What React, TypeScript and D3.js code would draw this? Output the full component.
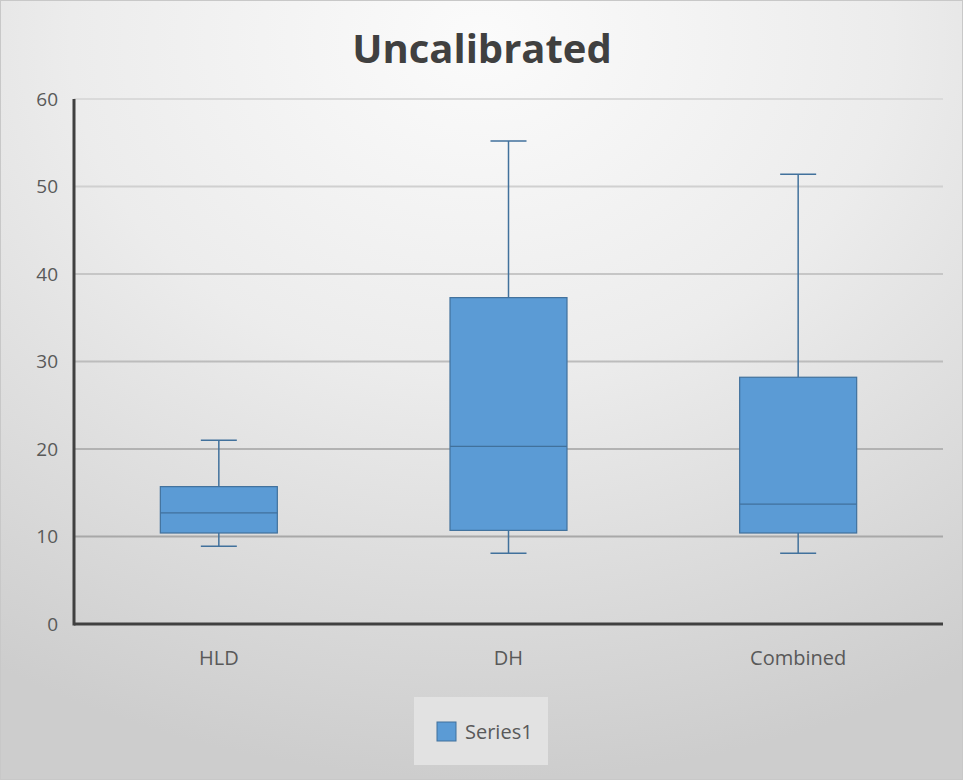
import React from "react";
import * as d3 from "d3";

const categories = ["HLD", "DH", "Combined"];
const mins = [8.9, 8.1, 8.1];
const q1s = [10.4, 10.7, 10.4];
const medians = [12.7, 20.3, 13.7];
const q3s = [15.7, 37.3, 28.2];
const maxs = [21.0, 55.2, 51.4];
const yTicks = [0, 10, 20, 30, 40, 50, 60];
const title = "Uncalibrated";
const seriesName = "Series1";

const W = 963;
const H = 780;
const left = 74;
const right = 943;
const top = 99;
const bottom = 624;

export default function App() {
  const x = d3.scaleBand<string>().domain(categories).range([left, right]).paddingInner(0).paddingOuter(0);
  const y = d3.scaleLinear().domain([0, 60]).range([bottom, top]);
  const boxW = 117;
  const capW = 36;
  const gridColor = d3.interpolateRgb("#9e9e9e", "#dadada");
  const font = "'Open Sans', Lato, sans-serif";
  const fill = "#5B9BD5";
  const stroke = "#41719C";

  return (
    <svg width={W} height={H} style={{ position: "absolute", left: 0, top: 0 }} fontFamily={font}>
      <defs>
        <radialGradient id="bg" cx="0.5" cy="0.05" r="0.95" gradientUnits="objectBoundingBox">
          <stop offset="0" stopColor="#fbfbfb" />
          <stop offset="0.45" stopColor="#ececec" />
          <stop offset="1" stopColor="#cdcdcd" />
        </radialGradient>
      </defs>
      <rect x={0.5} y={0.5} width={W - 1} height={H - 1} fill="url(#bg)" stroke="#c8c8c8" strokeWidth={1} />
      <text x={482} y={63} textAnchor="middle" fontSize={40} fontWeight="bold" fill="#404040">
        {title}
      </text>
      {yTicks.map((t) => (
        <g key={t}>
          {t > 0 && (
            <line x1={left} x2={right} y1={y(t)} y2={y(t)} stroke={gridColor(t / 60)} strokeWidth={2} />
          )}
          <text x={58} y={y(t)} dy="0.36em" textAnchor="end" fontSize={19} fill="#595959">
            {t}
          </text>
        </g>
      ))}
      {categories.map((c, i) => {
        const cx = (x(c) as number) + x.bandwidth() / 2;
        return (
          <g key={c}>
            <line x1={cx} x2={cx} y1={y(maxs[i])} y2={y(q3s[i])} stroke={stroke} strokeWidth={1.5} />
            <line x1={cx} x2={cx} y1={y(q1s[i])} y2={y(mins[i])} stroke={stroke} strokeWidth={1.5} />
            <line x1={cx - capW / 2} x2={cx + capW / 2} y1={y(maxs[i])} y2={y(maxs[i])} stroke={stroke} strokeWidth={1.5} />
            <line x1={cx - capW / 2} x2={cx + capW / 2} y1={y(mins[i])} y2={y(mins[i])} stroke={stroke} strokeWidth={1.5} />
            <rect
              x={cx - boxW / 2}
              y={y(q3s[i])}
              width={boxW}
              height={y(q1s[i]) - y(q3s[i])}
              fill={fill}
              stroke={stroke}
              strokeWidth={1.2}
            />
            <line x1={cx - boxW / 2} x2={cx + boxW / 2} y1={y(medians[i])} y2={y(medians[i])} stroke={stroke} strokeWidth={1.2} />
            <text x={cx} y={y(0) + 41} textAnchor="middle" fontSize={20} fill="#595959">
              {c}
            </text>
          </g>
        );
      })}
      <line x1={left} x2={right} y1={bottom} y2={bottom} stroke="#404040" strokeWidth={3} />
      <line x1={left} x2={left} y1={top} y2={bottom + 1.5} stroke="#404040" strokeWidth={3} />
      <g>
        <rect x={414} y={697} width={134} height={68} fill="#e2e2e2" />
        <rect x={437} y={722} width={19} height={19} fill={fill} stroke={stroke} strokeWidth={1} />
        <text x={465} y={739} fontSize={20} fill="#595959">
          {seriesName}
        </text>
      </g>
    </svg>
  );
}
